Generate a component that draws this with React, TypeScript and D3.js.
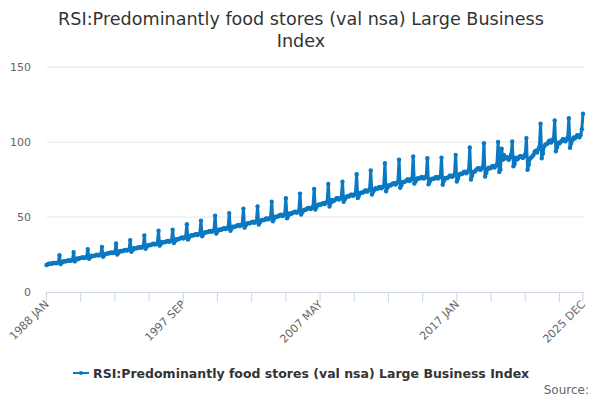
import * as d3 from "d3";

const years = d3.range(1988, 2026);
const monthNames = ["JAN", "FEB", "MAR", "APR", "MAY", "JUN", "JUL", "AUG", "SEP", "OCT", "NOV", "DEC"];

// monthly index values, one row per year (Jan..Dec)
const values1988_1997 = [
  [18.0, 18.3, 18.9, 18.8, 18.9, 19.0, 19.3, 19.4, 19.1, 19.3, 19.6, 24.5],
  [18.6, 19.6, 20.3, 20.5, 20.4, 20.6, 21.0, 21.1, 20.8, 21.0, 21.4, 26.6],
  [20.4, 21.4, 22.3, 22.0, 22.5, 22.6, 23.0, 23.1, 22.7, 23.0, 23.4, 28.6],
  [22.1, 23.1, 24.2, 23.8, 24.1, 24.2, 24.6, 24.8, 24.3, 24.6, 25.0, 30.1],
  [23.5, 24.6, 25.3, 25.6, 25.6, 25.8, 26.2, 26.3, 25.9, 26.2, 26.6, 32.4],
  [25.0, 26.1, 27.0, 27.3, 27.2, 27.4, 27.9, 28.0, 27.6, 27.9, 28.4, 34.6],
  [26.8, 28.0, 29.2, 29.0, 29.1, 29.3, 29.8, 29.9, 29.5, 29.8, 30.4, 37.7],
  [28.8, 30.1, 31.0, 31.4, 31.2, 31.5, 32.1, 32.2, 31.6, 31.9, 32.5, 40.8],
  [30.9, 32.1, 33.4, 33.1, 33.2, 33.4, 33.9, 34.0, 33.5, 33.9, 34.4, 41.5],
  [32.6, 34.0, 35.2, 35.0, 35.3, 35.6, 36.1, 36.3, 35.7, 36.2, 36.8, 45.2],
];
const values1998_2007 = [
  [35.0, 36.5, 37.4, 37.9, 37.7, 37.9, 38.4, 38.6, 38.0, 38.5, 39.1, 47.6],
  [37.2, 38.6, 39.5, 39.9, 39.8, 40.0, 40.5, 40.7, 40.1, 40.6, 41.2, 50.8],
  [39.0, 40.4, 41.4, 41.7, 41.5, 41.8, 42.3, 42.5, 41.9, 42.4, 43.0, 52.6],
  [40.8, 42.3, 43.6, 43.4, 43.6, 43.9, 44.5, 44.7, 44.0, 44.5, 45.2, 55.6],
  [42.9, 44.5, 45.5, 45.9, 45.8, 46.0, 46.6, 46.8, 46.1, 46.6, 47.3, 57.1],
  [45.0, 46.5, 47.6, 48.1, 47.9, 48.2, 48.9, 49.1, 48.4, 48.9, 49.7, 60.2],
  [47.2, 48.8, 50.2, 50.1, 50.3, 50.6, 51.3, 51.5, 50.7, 51.2, 52.0, 62.5],
  [49.2, 50.9, 52.3, 52.0, 52.4, 52.8, 53.4, 53.6, 52.8, 53.3, 54.1, 65.6],
  [51.6, 53.3, 54.4, 54.8, 54.9, 55.5, 56.1, 56.0, 55.3, 55.9, 56.8, 68.7],
  [55.0, 56.7, 57.8, 58.4, 58.0, 58.4, 59.1, 59.3, 58.6, 59.3, 60.3, 72.0],
];
const values2008_2017 = [
  [57.0, 59.3, 61.4, 60.5, 61.0, 61.6, 62.5, 62.6, 61.7, 62.2, 62.8, 73.5],
  [60.2, 61.8, 63.2, 63.8, 63.6, 63.9, 64.8, 64.9, 64.1, 64.8, 65.7, 78.5],
  [62.7, 64.3, 66.0, 66.2, 66.3, 66.7, 67.6, 67.7, 66.9, 67.6, 68.6, 81.0],
  [65.0, 66.8, 68.2, 69.2, 68.6, 69.0, 69.9, 70.0, 69.2, 69.8, 70.8, 85.8],
  [67.2, 69.3, 71.0, 71.0, 71.2, 71.8, 72.4, 72.6, 71.7, 72.5, 73.4, 88.2],
  [69.5, 71.2, 73.2, 73.4, 73.6, 74.0, 75.0, 75.0, 74.0, 74.8, 75.7, 90.4],
  [72.3, 73.8, 75.3, 75.9, 75.6, 75.9, 76.7, 76.6, 75.7, 76.3, 76.9, 89.2],
  [71.8, 73.5, 75.2, 75.6, 75.4, 75.7, 76.5, 76.7, 75.6, 76.4, 77.0, 89.6],
  [71.5, 74.0, 76.1, 75.8, 76.0, 76.6, 77.5, 77.6, 76.8, 77.5, 78.3, 91.4],
  [73.6, 75.6, 78.0, 78.8, 78.6, 79.0, 80.0, 80.2, 79.2, 80.1, 81.2, 96.4],
];
const values2018_2025 = [
  [75.0, 77.5, 80.0, 80.2, 81.0, 81.8, 82.6, 82.3, 81.4, 82.3, 83.3, 99.2],
  [77.0, 79.3, 81.8, 82.9, 82.4, 82.8, 83.8, 84.0, 83.0, 84.0, 85.1, 100.0],
  [80.0, 81.6, 95.5, 88.2, 91.3, 89.0, 89.6, 89.8, 88.2, 89.5, 91.6, 100.3],
  [83.8, 85.5, 89.6, 88.3, 89.0, 90.2, 90.6, 90.3, 89.4, 90.4, 91.8, 102.6],
  [81.5, 84.8, 88.8, 89.7, 90.3, 91.4, 93.6, 94.2, 93.0, 95.0, 96.8, 112.2],
  [89.2, 92.4, 97.0, 98.2, 98.6, 99.0, 100.6, 101.0, 99.6, 100.8, 102.4, 114.4],
  [93.8, 96.5, 99.6, 99.0, 100.0, 100.8, 102.0, 101.6, 100.4, 101.5, 103.0, 115.8],
  [96.2, 99.0, 101.4, 103.0, 102.3, 103.2, 104.6, 104.4, 103.2, 104.6, 108.5, 118.9],
];

const yTicks = [0, 50, 100, 150];
const tickEvery = 29;
const labelEvery = 116;

const seriesName = "RSI:Predominantly food stores (val nsa) Large Business Index";
const color = "#0a78c2";

export default function App() {
  const width = 600;
  const height = 400;
  const margin = { top: 67, right: 17, bottom: 108, left: 46.5 };

  const values = [...values1988_1997, ...values1998_2007, ...values2008_2017, ...values2018_2025].flat();
  const categories = years.flatMap((y) => monthNames.map((m) => `${y} ${m}`));
  const data = categories.map((c, i) => ({ label: c, value: values[i] }));

  const x = d3
    .scaleLinear()
    .domain([0, categories.length - 1])
    .range([margin.left, width - margin.right]);
  const y = d3
    .scaleLinear()
    .domain([0, 150])
    .range([height - margin.bottom, margin.top]);

  const line = d3
    .line<{ label: string; value: number }>()
    .x((_, i) => x(i))
    .y((d) => y(d.value));

  const ticks = d3.range(0, categories.length, tickEvery).concat([categories.length - 1]);
  const labelled = ticks.filter((t) => t % labelEvery === 0 || t === categories.length - 1);
  const baseY = y(0);
  const font = "'DejaVu Sans', sans-serif";

  return (
    <svg width={width} height={height} style={{ position: "absolute", left: 0, top: 0 }} fontFamily={font}>
      <rect width={width} height={height} fill="#fff" />
      <text x={301} y={25} textAnchor="middle" fontSize={17.6} fill="#333">
        RSI:Predominantly food stores (val nsa) Large Business
      </text>
      <text x={301} y={47} textAnchor="middle" fontSize={17.6} fill="#333">
        Index
      </text>

      {yTicks.map((t) => (
        <g key={t}>
          {t > 0 && (
            <line x1={margin.left} x2={width - margin.right + 1} y1={y(t)} y2={y(t)} stroke="#e6e6e6" />
          )}
          <text x={31} y={y(t) + 4} textAnchor="end" fontSize={11} fill="#666">
            {t}
          </text>
        </g>
      ))}

      <line x1={margin.left} x2={width - margin.right + 1} y1={baseY + 0.5} y2={baseY + 0.5} stroke="#ccd6eb" />
      {ticks.map((t) => (
        <line key={t} x1={x(t)} x2={x(t)} y1={baseY} y2={baseY + 10} stroke="#ccd6eb" />
      ))}
      {labelled.map((t) => (
        <text
          key={t}
          transform={`translate(${x(t) + 3},${baseY + 13}) rotate(-45)`}
          textAnchor="end"
          fontSize={11}
          fill="#666"
        >
          {categories[t]}
        </text>
      ))}

      <path d={line(data) ?? ""} fill="none" stroke={color} strokeWidth={3} strokeLinejoin="round" />
      {data.map((d, i) => (
        <circle key={i} cx={x(i)} cy={y(d.value)} r={2.2} fill={color} />
      ))}

      <g>
        <line x1={73} x2={89} y1={373} y2={373} stroke={color} strokeWidth={2} />
        <circle cx={81} cy={373} r={2} fill={color} />
        <text x={93} y={378} fontSize={12.5} fontWeight="bold" fill="#333">
          {seriesName}
        </text>
      </g>
      <text x={589} y={394} textAnchor="end" fontSize={12} fill="#666">
        Source:
      </text>
    </svg>
  );
}
